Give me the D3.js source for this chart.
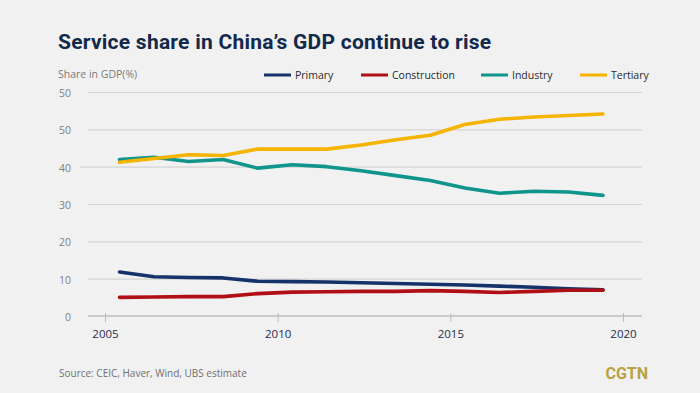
<!DOCTYPE html>
<html><head><meta charset="utf-8">
<script src="https://cdn.jsdelivr.net/npm/d3@7"></script>
<style>
html,body{margin:0;padding:0;background:#f1f1f1;}
svg{display:block;}
</style></head>
<body>
<svg id="chart" width="700" height="393"></svg>
<script>
const years = [2005,2006,2007,2008,2009,2010,2011,2012,2013,2014,2015,2016,2017,2018,2019];
const primary = [11.8,10.5,10.3,10.2,9.3,9.2,9.1,8.9,8.7,8.5,8.3,8.0,7.7,7.3,7.0];
const construction = [5.0,5.1,5.2,5.2,6.0,6.4,6.5,6.6,6.6,6.8,6.6,6.3,6.6,6.9,6.9];
const industry = [41.9,42.5,41.4,41.9,39.6,40.5,40.0,38.9,37.6,36.3,34.3,32.9,33.4,33.2,32.3];
const tertiary = [41.2,42.2,43.2,43.0,44.7,44.7,44.7,45.8,47.2,48.4,51.3,52.7,53.3,53.7,54.1];
const seriesNames = ["Primary","Construction","Industry","Tertiary"];
const seriesColors = ["#15336a","#b10f16","#0f958c","#f4b400"];
const yTicks = [0,10,20,30,40,50,60];
const yTickLabels = ["0","10","20","30","40","50","50"];
const xTicks = [2005,2010,2015,2020];
const title = "Service share in China\u2019s GDP continue to rise";
const yTitle = "Share in GDP(%)";
const source = "Source: CEIC, Haver, Wind, UBS estimate";

(function(){
const seriesValues = [primary, construction, industry, tertiary];
const svg = d3.select("#chart");
svg.append("rect").attr("width",700).attr("height",393).attr("fill","#f1f1f1");

const pLeft = 88, pRight = 642, pTop = 92, pBottom = 316;
const x = d3.scaleLinear().domain([2005,2020]).range([105,623]);
const xOffset = 0.42;
const y = d3.scaleLinear().domain([0,60]).range([pBottom, pTop]);

svg.append("text").attr("x",58).attr("y",49)
  .attr("font-family","Roboto, 'Noto Sans', sans-serif").attr("font-weight",700)
  .attr("font-size",21).attr("letter-spacing",0.25).attr("fill","#13294b").text(title);

svg.append("text").attr("x",58).attr("y",78)
  .attr("font-family","'Open Sans', sans-serif").attr("font-size",10.5)
  .attr("fill","#7a7a7a").text(yTitle);

const gy = svg.append("g").attr("transform",`translate(${pLeft},0)`)
  .call(d3.axisLeft(y).tickValues(yTicks.slice(1)).tickSize(-(pRight-pLeft)).tickFormat(""));
gy.select(".domain").remove();
gy.selectAll(".tick line").attr("stroke","#d4d4d4").attr("stroke-width",1.2)
  .attr("x1", d => d===40 ? -8 : 0);

svg.append("g").selectAll("text").data(yTicks).join("text")
  .attr("x",71).attr("y",d=>y(d)+5).attr("text-anchor","end")
  .attr("font-family","'Open Sans', sans-serif").attr("font-size",10.5)
  .attr("fill","#808080").text((d,i)=>yTickLabels[i]);

const gx = svg.append("g").attr("transform",`translate(0,${pBottom})`)
  .call(d3.axisBottom(x).tickValues(xTicks).tickFormat(d3.format("d")).tickSize(6).tickSizeOuter(0));
gx.select(".domain").attr("d",`M${pLeft},0H${pRight}`).attr("stroke","#bdbdbd").attr("stroke-width",1.5);
gx.selectAll(".tick line").attr("stroke","#bdbdbd").attr("y1",-3).attr("y2",6);
gx.selectAll(".tick text").attr("y",14).attr("font-family","'Open Sans', sans-serif")
  .attr("font-size",11.5).attr("fill","#1f2d4f");

const line = d3.line().x((d,i)=>x(years[i]+xOffset)).y(d=>y(d)).curve(d3.curveLinear);
const order = [2,3,0,1];
svg.append("g").selectAll("path").data(order).join("path")
  .attr("d", k => line(seriesValues[k]))
  .attr("fill","none").attr("stroke", k=>seriesColors[k]).attr("stroke-width",3.6)
  .attr("stroke-linejoin","round").attr("stroke-linecap","round");

const legendX = [264,361,481,580];
const lg = svg.append("g").selectAll("g").data(seriesNames).join("g")
  .attr("transform",(d,i)=>`translate(${legendX[i]},75)`);
lg.append("line").attr("x1",0).attr("x2",27).attr("stroke",(d,i)=>seriesColors[i]).attr("stroke-width",3);
lg.append("text").attr("x",31).attr("y",4).attr("font-family","'Open Sans', sans-serif")
  .attr("font-size",10.5).attr("fill","#2a2a2a").text(d=>d);

svg.append("text").attr("x",59).attr("y",377).attr("font-family","'Open Sans', sans-serif")
  .attr("font-size",10).attr("fill","#6f6f6f").text(source);
svg.append("text").attr("x",648).attr("y",379).attr("text-anchor","end")
  .attr("font-family","Roboto, sans-serif").attr("font-weight",700).attr("font-size",16)
  .attr("fill","#b9a245").text("CGTN");
})();
</script>
</body></html>
